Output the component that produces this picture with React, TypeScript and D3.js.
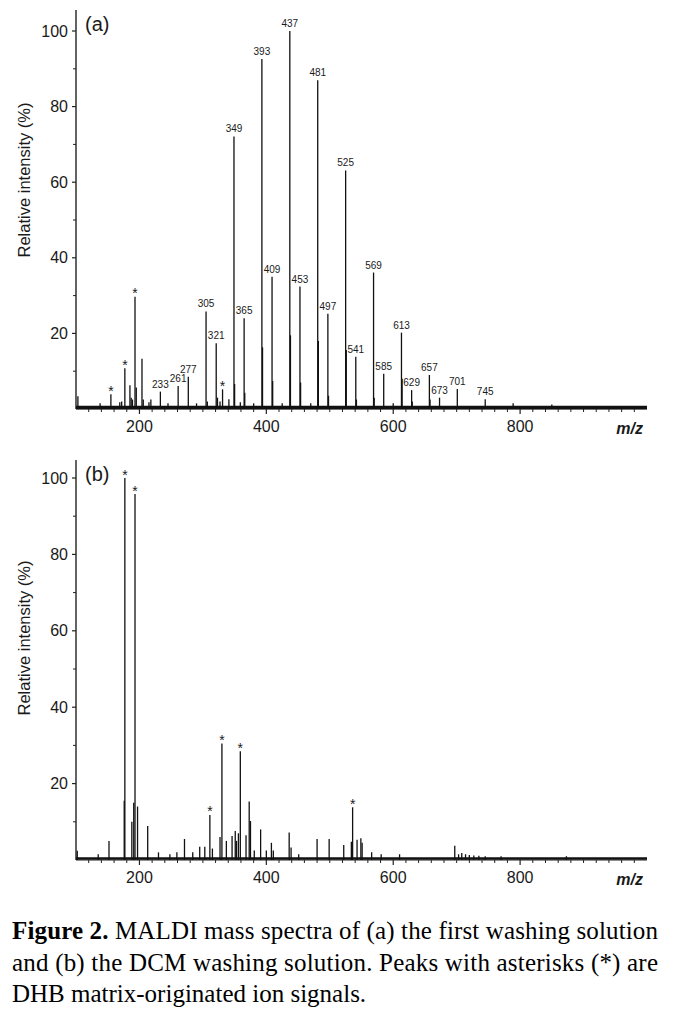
import React from 'react';
import * as d3 from 'd3';

// ---------- data ----------
const mzTicks = [200, 400, 600, 800];
const intensityTicks = [20, 40, 60, 80, 100];

// panel (a): [m/z, relative intensity %]
const spectrumA: [number, number][] = [
  [103, 3.4], [138, 1.5], [155, 3.9], [169, 1.8], [172, 2], [177, 10.8], [185, 6.3], [187, 3], [189, 2.5],
  [193, 29.7], [195, 5.7], [204, 13.3], [206, 2.5], [215, 1.8], [218, 2.5], [233, 4.6], [245, 1.5],
  [261, 6.1], [277, 8.5], [290, 1.5], [305, 25.8], [307, 2], [321, 17.4], [323, 3], [327, 2], [331, 5.2],
  [341, 2.6], [349, 72.1], [350, 6.6], [359, 1.8], [365, 24], [366, 4.3], [380, 1.5], [393, 92.6],
  [394, 16.3], [409, 35], [410, 7.4], [425, 1.5], [437, 100], [438, 19.5], [453, 32.4], [454, 7],
  [470, 1.5], [481, 87], [482, 18], [497, 25.2], [498, 3.5], [525, 63.1], [526, 15.6], [541, 13.8],
  [542, 2.5], [569, 36.1], [570, 3], [585, 9.3], [600, 1.5], [613, 20.2], [614, 8], [629, 5], [630, 2],
  [657, 9], [658, 2.5], [673, 3], [701, 5.3], [745, 2.6], [789, 1.5], [850, 1.2],
];
const labelsA = [233, 261, 277, 305, 321, 349, 365, 393, 409, 437, 453, 481, 497, 525, 541, 569, 585, 613, 629, 657, 673, 701, 745];
const starsA = [155, 177, 193, 331];

// panel (b)
const spectrumB: [number, number][] = [
  [102, 2.4], [135, 1.5], [152, 5], [176, 15.5], [177, 100], [188, 10], [191, 15], [193, 95.8], [197, 14],
  [213, 8.9], [230, 2], [248, 1.5], [259, 2], [271, 5.5], [284, 2], [295, 3.5], [303, 3.5], [311, 11.8],
  [315, 3], [327, 6], [330, 30.5], [337, 5], [346, 6.3], [351, 7.6], [353, 5], [356, 7], [359, 28.5],
  [368, 6.5], [373, 15.3], [375, 10.2], [381, 2.5], [391, 8], [400, 2.5], [408, 4.5], [411, 2.5],
  [436, 7.2], [439, 3.3], [451, 1.5], [480, 5.5], [499, 5.5], [522, 3.9], [534, 4.8], [536, 13.8],
  [543, 5.3], [549, 5.7], [551, 4.5], [566, 2], [581, 1.5], [610, 1.5], [697, 3.7], [703, 1.5],
  [708, 1.8], [714, 1.5], [720, 1.3], [727, 1.2], [735, 1.1], [745, 1], [770, 1], [873, 1],
];
const starsB = [177, 193, 311, 330, 359, 536];

const captionLines = [
  ['Figure 2.', ' MALDI mass spectra of (a) the first washing solution'],
  ['', 'and (b) the DCM washing solution. Peaks with asterisks (*) are'],
  ['', 'DHB matrix-originated ion signals.'],
];

// ---------- drawing ----------
const W = 674;
const H = 1009;
const INK = '#111';
const SANS = '"Liberation Sans", Arial, Helvetica, sans-serif';
const SERIF = '"Liberation Serif", "Times New Roman", serif';

const x = d3.scaleLinear().domain([100, 1000]).range([76, 647]);

type PanelProps = {
  spectrum: [number, number][];
  labels: number[];
  stars: number[];
  tag: string;
  yBase: number;
  yTop: number;
  axisTop: number;
  titleCenter: number;
  noiseWidth: number;
};

function Panel({ spectrum, labels, stars, tag, yBase, yTop, axisTop, titleCenter, noiseWidth }: PanelProps) {
  const y = d3.scaleLinear().domain([0, 100]).range([yBase, yTop]);
  const peakOf = (m: number) => spectrum.find((d) => d[0] === m)!;
  const minorX = d3.range(120, 1000, 20).filter((v) => v % 200 !== 0);
  const minorY = d3.range(10, 100, 20);
  const x0 = x.range()[0];
  return (
    <g>
      {/* y axis */}
      <line x1={x0} x2={x0} y1={axisTop} y2={yBase} stroke="#222" strokeWidth={1.4} />
      {intensityTicks.map((t) => (
        <g key={'yt' + t}>
          <line x1={x0 - 4} x2={x0} y1={y(t)} y2={y(t)} stroke="#222" strokeWidth={1.2} />
          <text x={68} y={y(t)} dy="0.35em" textAnchor="end" fontFamily={SANS} fontSize={16} fill="#1a1a1a">
            {t}
          </text>
        </g>
      ))}
      {minorY.map((t) => (
        <line key={'ym' + t} x1={x0 - 3} x2={x0} y1={y(t)} y2={y(t)} stroke="#222" strokeWidth={1} />
      ))}
      <text
        transform={`translate(30,${titleCenter}) rotate(-90)`}
        textAnchor="middle"
        fontFamily={SANS}
        fontSize={16.5}
        fill="#1a1a1a"
      >
        Relative intensity (%)
      </text>
      <text x={85} y={axisTop + 21} fontFamily={SANS} fontSize={20} fill="#1a1a1a">
        {tag}
      </text>

      {/* x axis */}
      <line x1={x0} x2={x.range()[1]} y1={yBase} y2={yBase} stroke="#222" strokeWidth={1.2} />
      <line
        x1={x0}
        x2={x.range()[1]}
        y1={y(0.4)}
        y2={y(0.4)}
        stroke={INK}
        strokeWidth={noiseWidth}
      />
      {minorX.map((t) => (
        <line key={'xm' + t} x1={x(t)} x2={x(t)} y1={yBase} y2={yBase + 3} stroke="#222" strokeWidth={1} />
      ))}
      {mzTicks.map((t) => (
        <g key={'xt' + t}>
          <line x1={x(t)} x2={x(t)} y1={yBase} y2={yBase + 5} stroke="#222" strokeWidth={1.2} />
          <text x={x(t)} y={yBase + 23} textAnchor="middle" fontFamily={SANS} fontSize={16} fill="#1a1a1a">
            {t}
          </text>
        </g>
      ))}
      <text
        x={643}
        y={yBase + 25}
        textAnchor="end"
        fontFamily={SANS}
        fontSize={16}
        fontWeight="bold"
        fontStyle="italic"
        fill="#1a1a1a"
      >
        m/z
      </text>

      {/* peaks */}
      {spectrum.map(([m, v]) => (
        <line key={'p' + m} x1={x(m)} x2={x(m)} y1={yBase} y2={y(v)} stroke={INK} strokeWidth={1.3} />
      ))}
      {labels.map((m) => {
        const [, v] = peakOf(m);
        return (
          <text key={'l' + m} x={x(m)} y={y(v) - 4} textAnchor="middle" fontFamily={SANS} fontSize={10} fill="#1a1a1a">
            {m}
          </text>
        );
      })}
      {stars.map((m) => {
        const [, v] = peakOf(m);
        return (
          <text key={'s' + m} x={x(m)} y={y(v) + 1.5} textAnchor="middle" fontFamily={SANS} fontSize={14} fill="#1a1a1a">
            *
          </text>
        );
      })}
    </g>
  );
}

export default function App() {
  const captionBase = [939, 971, 1002];
  return (
    <svg
      width={W}
      height={H}
      viewBox={`0 0 ${W} ${H}`}
      style={{ position: 'absolute', left: 0, top: 0, background: '#fff' }}
    >
      <rect width={W} height={H} fill="#fff" />
      <Panel
        spectrum={spectrumA}
        labels={labelsA}
        stars={starsA}
        tag="(a)"
        yBase={409}
        yTop={31}
        axisTop={10}
        titleCenter={180}
        noiseWidth={3.5}
      />
      <Panel
        spectrum={spectrumB}
        labels={[]}
        stars={starsB}
        tag="(b)"
        yBase={860}
        yTop={478}
        axisTop={460}
        titleCenter={638}
        noiseWidth={2.5}
      />
      {captionLines.map(([bold, rest], i) => (
        <text
          key={'c' + i}
          x={12}
          y={captionBase[i]}
          fontFamily={SERIF}
          fontSize={25}
          fill="#000"
          {...(i < 2 ? { textLength: 646, lengthAdjust: 'spacing' } : {})}
        >
          {bold ? <tspan fontWeight="bold">{bold}</tspan> : null}
          <tspan>{rest}</tspan>
        </text>
      ))}
    </svg>
  );
}
